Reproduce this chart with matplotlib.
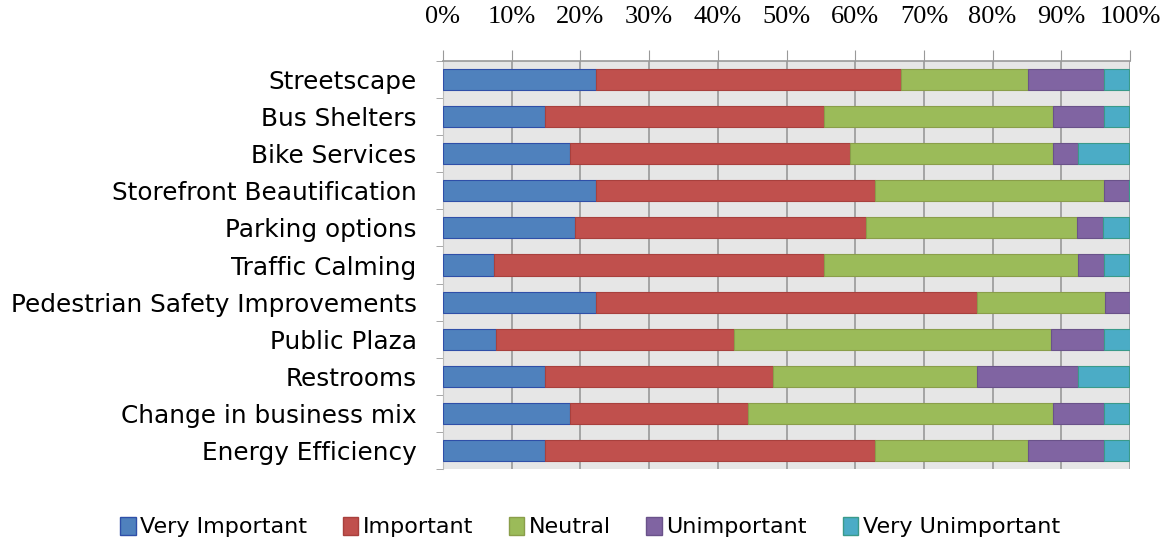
import numpy as np
import matplotlib
matplotlib.use("Agg")
import matplotlib.pyplot as plt
from matplotlib.patches import Patch

categories = ["Streetscape", "Bus Shelters", "Bike Services", "Storefront Beautification",
              "Parking options", "Traffic Calming", "Pedestrian Safety Improvements",
              "Public Plaza", "Restrooms", "Change in business mix", "Energy Efficiency"]
series = ["Very Important", "Important", "Neutral", "Unimportant", "Very Unimportant"]

# percentages
very_important = [22.2, 14.8, 18.5, 22.2, 19.2, 7.4, 22.2, 7.7, 14.8, 18.5, 14.8]
important = [44.4, 40.7, 40.7, 40.7, 42.3, 48.1, 55.6, 34.6, 33.3, 25.9, 48.1]
neutral = [18.5, 33.3, 29.6, 33.3, 30.8, 37.0, 18.5, 46.2, 29.6, 44.4, 22.2]
unimportant = [11.1, 7.4, 3.7, 3.7, 3.8, 3.7, 3.7, 7.7, 14.8, 7.4, 11.1]
very_unimportant = [3.7, 3.7, 7.4, 0.0, 3.8, 3.7, 0.0, 3.8, 7.4, 3.7, 3.7]

colors = ["#4F81BD", "#C0504D", "#9BBB59", "#8064A2", "#4BACC6"]
edges = ["#2f4fa8", "#a8403d", "#8a9e4a", "#6a528a", "#3a9a8a"]

fig = plt.figure(figsize=(11.67, 5.44), dpi=100)
ax = fig.add_axes([443 / 1167, 1 - 469 / 544, (1130 - 443) / 1167, (469 - 61) / 544])
ax.set_facecolor("#e6e6e6")

y = np.arange(len(categories))
left = np.zeros(len(categories))
for vals, col, ec, name in zip([very_important, important, neutral, unimportant, very_unimportant],
                               colors, edges, series):
    vals = np.array(vals)
    ax.barh(y, vals, left=left, height=0.57, color=col, edgecolor=ec, linewidth=0.8,
            label=name, zorder=3)
    left += vals

ax.set_xlim(0, 100)
ax.set_ylim(len(categories) - 0.5, -0.5)
ax.xaxis.tick_top()
ax.set_xticks(np.arange(0, 101, 10))
ax.set_xticklabels([f"{v}%" for v in range(0, 101, 10)], family="Liberation Serif", fontsize=19)
ax.tick_params(axis="x", length=8, color="#999999", pad=16)
ax.grid(axis="x", color="#999999", linewidth=1.2, zorder=1)

ax.set_yticks(y)
ax.set_yticklabels(categories, fontsize=17.8, family="DejaVu Sans")
ax.tick_params(axis="y", length=0, pad=19)
ax.set_yticks(np.arange(-0.5, len(categories) + 0.5, 1), minor=True)
ax.tick_params(axis="y", which="minor", length=5, color="#999999", direction="out")

for s in ["bottom", "right"]:
    ax.spines[s].set_visible(False)
ax.spines["left"].set_color("#bbbbbb")
ax.spines["top"].set_color("#999999")
ax.spines["top"].set_linewidth(1.2)

handles = [Patch(facecolor=c, edgecolor=e) for c, e in zip(colors, edges)]
fig.legend(handles, series, loc="center", bbox_to_anchor=(590 / 1167, 1 - 527 / 544),
           ncol=5, frameon=False, fontsize=16, handlelength=0.7, handleheight=0.9,
           handletextpad=0.2, columnspacing=1.6)

fig.savefig("out.png", dpi=100)
